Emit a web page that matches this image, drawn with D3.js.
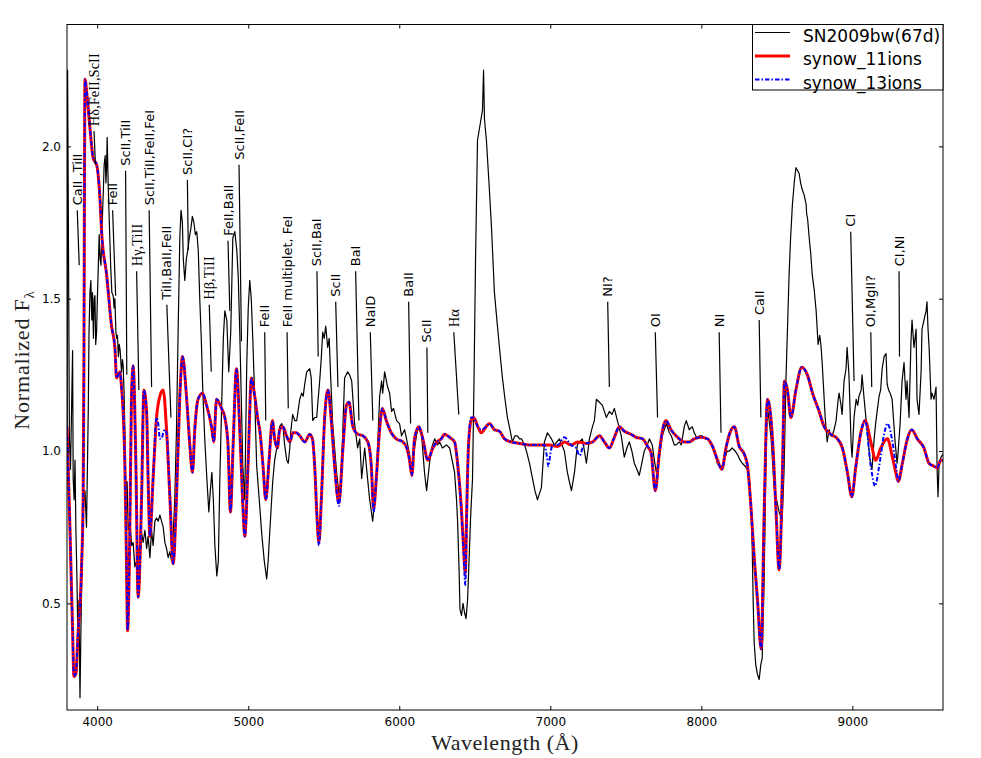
<!DOCTYPE html>
<html><head><meta charset="utf-8">
<script src="https://cdn.jsdelivr.net/npm/d3@7"></script>
<style>body{margin:0;background:#fff}svg{display:block}</style>
</head><body>
<svg id="chart" width="981" height="758"></svg>
<script>
// ---------- data ----------
const seriesNames = ["SN2009bw(67d)", "synow_11ions", "synow_13ions"];
const xTicks = [4000, 5000, 6000, 7000, 8000, 9000];
const yTicks = [0.5, 1.0, 1.5, 2.0];

// observed spectrum [wavelength (Å), normalized flux]
const observed = [[3801,1.04],[3804,2.25],[3810,1.66],[3816,1.04],[3823,0.94],[3829,1.10],[3837,1.33],[3841,0.91],[3847,0.84],[3853,0.97],[3859,0.74],[3866,0.58],[3872,0.38],[3879,0.51],[3886,0.19],[3892,0.41],[3899,0.61],[3906,0.78],[3912,0.84],[3919,0.87],[3929,0.75],[3935,0.94],[3941,1.14],[3946,1.40],[3952,1.52],[3958,1.56],[3964,1.43],[3969,1.52],[3975,1.37],[3980,1.50],[3985,1.51],[3990,1.35],[3996,1.39],[4001,1.50],[4007,1.60],[4013,1.71],[4019,1.63],[4025,1.61],[4030,1.70],[4036,1.79],[4041,1.86],[4046,1.94],[4053,1.97],[4058,1.88],[4062,1.93],[4066,2.03],[4073,1.87],[4079,1.77],[4089,1.61],[4097,1.52],[4106,1.51],[4112,1.47],[4117,1.50],[4124,1.39],[4129,1.37],[4134,1.38],[4140,1.31],[4146,1.35],[4152,1.33],[4157,1.29],[4161,1.26],[4167,1.30],[4172,1.28],[4178,1.19],[4183,1.07],[4190,0.85],[4198,0.90],[4205,0.74],[4216,0.77],[4228,0.69],[4238,0.70],[4249,0.62],[4261,0.64],[4271,0.68],[4282,0.64],[4294,0.73],[4304,0.70],[4316,0.74],[4327,0.68],[4337,0.72],[4349,0.65],[4360,0.74],[4370,0.69],[4382,0.77],[4393,0.78],[4404,0.77],[4415,0.79],[4426,0.77],[4437,0.75],[4448,0.70],[4459,0.68],[4470,0.65],[4481,0.67],[4492,0.64],[4503,0.72],[4514,0.85],[4525,1.07],[4536,1.40],[4547,1.70],[4555,1.79],[4564,1.75],[4570,1.63],[4580,1.56],[4590,1.63],[4600,1.66],[4610,1.70],[4620,1.73],[4630,1.77],[4640,1.75],[4650,1.71],[4659,1.72],[4669,1.66],[4679,1.50],[4689,1.37],[4699,1.20],[4712,1.04],[4726,0.91],[4739,0.80],[4749,0.87],[4759,0.93],[4769,0.84],[4779,0.69],[4792,0.59],[4802,0.64],[4812,0.91],[4825,1.17],[4835,1.37],[4845,1.46],[4858,1.43],[4871,1.26],[4884,1.39],[4898,1.70],[4911,1.72],[4924,1.66],[4934,1.57],[4944,1.39],[4954,1.17],[4964,0.95],[4977,0.84],[4990,1.28],[5000,1.47],[5010,1.56],[5020,1.50],[5030,1.37],[5043,1.17],[5056,0.95],[5073,0.84],[5089,0.73],[5106,0.64],[5122,0.58],[5132,0.64],[5142,0.73],[5162,0.90],[5175,0.97],[5189,1.01],[5208,1.08],[5222,1.09],[5232,1.07],[5241,1.02],[5255,0.97],[5265,0.96],[5275,1.01],[5281,1.06],[5294,1.12],[5308,1.10],[5321,1.10],[5341,1.17],[5354,1.19],[5364,1.18],[5374,1.22],[5387,1.26],[5407,1.27],[5417,1.24],[5427,1.10],[5440,1.11],[5453,1.11],[5463,1.17],[5473,1.23],[5483,1.30],[5493,1.39],[5503,1.37],[5513,1.41],[5526,1.34],[5536,1.37],[5546,1.24],[5559,1.09],[5585,0.93],[5605,0.84],[5619,0.97],[5638,1.24],[5658,1.26],[5671,1.25],[5685,1.23],[5704,1.09],[5724,1.01],[5738,1.04],[5751,0.91],[5771,1.01],[5790,0.91],[5804,0.84],[5824,0.77],[5837,0.84],[5850,0.93],[5870,1.18],[5883,1.23],[5890,1.19],[5903,1.26],[5923,1.21],[5936,1.19],[5949,1.13],[5962,1.14],[5982,1.10],[6002,1.09],[6015,1.05],[6035,1.07],[6048,1.04],[6068,0.99],[6081,0.92],[6101,1.01],[6121,1.07],[6134,1.07],[6148,1.05],[6167,0.93],[6181,0.87],[6200,0.96],[6214,1.01],[6234,1.04],[6253,1.02],[6267,1.03],[6286,1.01],[6313,1.02],[6333,1.01],[6346,0.98],[6366,0.93],[6379,0.84],[6386,0.77],[6396,0.61],[6402,0.48],[6412,0.46],[6422,0.50],[6432,0.47],[6442,0.45],[6452,0.51],[6462,0.64],[6472,0.78],[6485,0.91],[6495,1.24],[6505,1.63],[6518,2.02],[6538,2.08],[6551,2.12],[6558,2.25],[6564,2.09],[6577,2.02],[6594,1.88],[6610,1.74],[6630,1.52],[6650,1.41],[6667,1.32],[6683,1.24],[6700,1.17],[6716,1.11],[6733,1.07],[6749,1.03],[6766,1.05],[6782,1.05],[6796,1.04],[6809,1.04],[6829,1.02],[6842,1.00],[6862,0.96],[6882,0.91],[6898,0.87],[6915,0.84],[6928,0.86],[6941,0.88],[6961,1.03],[6981,1.06],[6994,1.05],[7007,1.04],[7027,1.02],[7044,1.03],[7060,1.04],[7077,1.02],[7093,1.00],[7113,0.93],[7126,0.90],[7140,0.87],[7160,0.93],[7179,1.02],[7193,1.03],[7212,1.04],[7226,1.00],[7239,0.96],[7259,1.04],[7279,1.08],[7292,1.10],[7305,1.17],[7325,1.16],[7345,1.15],[7358,1.13],[7371,1.11],[7391,1.13],[7408,1.12],[7424,1.14],[7444,1.10],[7470,1.05],[7490,0.98],[7507,1.01],[7523,1.03],[7540,1.00],[7556,0.96],[7573,0.94],[7589,0.92],[7606,0.96],[7622,1.00],[7642,1.02],[7656,1.04],[7675,1.02],[7689,0.97],[7702,0.93],[7722,0.98],[7741,1.05],[7768,1.09],[7788,1.06],[7801,1.05],[7821,1.02],[7834,1.02],[7854,1.03],[7867,1.02],[7887,1.08],[7900,1.10],[7920,1.07],[7940,1.08],[7953,1.06],[7973,1.04],[7986,1.05],[8006,1.05],[8026,1.04],[8039,1.04],[8059,1.03],[8072,1.02],[8092,0.99],[8105,0.96],[8125,0.95],[8138,0.95],[8152,0.97],[8171,1.00],[8185,1.00],[8204,1.01],[8224,1.00],[8238,0.99],[8257,0.97],[8271,0.96],[8290,0.95],[8304,0.94],[8317,0.92],[8328,0.82],[8337,0.68],[8343,0.51],[8350,0.37],[8360,0.30],[8370,0.27],[8383,0.25],[8394,0.30],[8403,0.32],[8416,0.58],[8426,0.91],[8436,1.15],[8449,1.10],[8462,1.04],[8482,0.88],[8502,0.83],[8515,0.80],[8535,0.77],[8548,0.94],[8560,1.23],[8572,1.43],[8581,1.58],[8591,1.70],[8603,1.81],[8615,1.88],[8626,1.93],[8638,1.92],[8648,1.91],[8657,1.88],[8667,1.86],[8681,1.84],[8694,1.81],[8697,1.78],[8704,1.76],[8714,1.70],[8724,1.65],[8734,1.58],[8747,1.53],[8760,1.46],[8773,1.35],[8784,1.38],[8793,1.34],[8800,1.29],[8810,1.20],[8820,1.11],[8833,1.03],[8846,1.07],[8856,1.05],[8866,1.05],[8879,1.07],[8892,1.10],[8906,1.17],[8912,1.19],[8925,1.15],[8932,1.12],[8945,1.23],[8958,1.27],[8965,1.34],[8975,1.27],[8978,1.24],[8992,1.02],[8998,0.98],[9011,1.11],[9025,1.17],[9035,1.15],[9044,1.18],[9058,1.20],[9064,1.25],[9078,1.17],[9097,1.07],[9107,1.02],[9117,0.97],[9130,0.94],[9144,1.04],[9154,1.09],[9164,1.13],[9177,1.18],[9187,1.20],[9197,1.27],[9210,1.31],[9223,1.32],[9230,1.22],[9240,1.20],[9250,1.19],[9263,1.17],[9273,1.10],[9283,1.03],[9296,0.96],[9302,0.99],[9316,1.09],[9329,1.23],[9342,1.29],[9355,1.17],[9362,1.23],[9375,1.11],[9388,1.36],[9395,1.43],[9408,1.34],[9422,1.40],[9428,1.17],[9441,1.12],[9455,1.26],[9461,1.40],[9474,1.43],[9488,1.46],[9494,1.49],[9501,1.40],[9508,1.34],[9521,1.17],[9527,1.19],[9541,1.17],[9554,1.21],[9561,0.94],[9567,0.85],[9574,0.96],[9587,0.98],[9600,0.99]];

// synow model with 11 ions
const synow11 = [[3800,1.08],[3820,0.74],[3837,0.41],[3846,0.26],[3859,0.27],[3874,0.41],[3886,0.49],[3897,0.63],[3907,0.85],[3912,1.29],[3915,1.75],[3919,2.22],[3934,2.16],[3952,2.06],[3974,1.96],[3996,1.94],[4018,1.83],[4029,1.72],[4062,1.58],[4095,1.41],[4117,1.34],[4128,1.24],[4140,1.25],[4150,1.26],[4161,1.21],[4183,0.96],[4194,0.63],[4201,0.41],[4216,0.74],[4227,1.18],[4238,1.28],[4256,0.96],[4271,0.52],[4294,0.85],[4309,1.20],[4327,1.13],[4337,0.91],[4349,0.72],[4370,0.91],[4393,1.11],[4415,1.18],[4437,1.20],[4459,1.07],[4481,0.85],[4503,0.63],[4525,0.85],[4547,1.18],[4565,1.31],[4591,1.18],[4613,1.02],[4631,0.93],[4646,1.07],[4668,1.17],[4697,1.19],[4724,1.15],[4757,1.08],[4772,1.03],[4790,1.17],[4823,1.14],[4845,1.11],[4866,1.02],[4882,0.80],[4900,1.02],[4922,1.27],[4944,1.07],[4962,0.85],[4977,0.72],[4999,0.96],[5021,1.24],[5043,1.18],[5065,1.10],[5076,1.07],[5098,0.95],[5116,0.84],[5138,0.97],[5160,1.10],[5175,1.04],[5193,1.01],[5208,1.07],[5230,1.08],[5253,1.05],[5275,1.03],[5296,1.06],[5319,1.06],[5341,1.05],[5374,1.03],[5407,1.055],[5425,1.04],[5440,0.95],[5455,0.785],[5468,0.70],[5484,0.84],[5506,1.11],[5528,1.20],[5550,1.10],[5572,0.95],[5600,0.83],[5627,1.01],[5650,1.15],[5667,1.16],[5693,1.08],[5726,1.055],[5759,1.05],[5792,1.03],[5815,0.95],[5830,0.81],[5848,0.91],[5865,1.04],[5888,1.14],[5914,1.10],[5947,1.06],[5980,1.04],[6024,1.03],[6050,1.01],[6068,0.97],[6083,0.92],[6101,1.04],[6130,1.08],[6156,1.04],[6189,0.97],[6222,1.01],[6249,1.03],[6278,1.04],[6300,1.055],[6333,1.045],[6366,1.03],[6388,0.95],[6410,0.82],[6425,0.69],[6437,0.60],[6447,0.82],[6458,1.015],[6476,1.10],[6492,1.11],[6520,1.08],[6542,1.06],[6575,1.08],[6597,1.09],[6630,1.07],[6663,1.065],[6697,1.04],[6741,1.03],[6796,1.025],[6862,1.02],[6928,1.02],[6994,1.02],[7049,1.015],[7093,1.03],[7138,1.02],[7181,1.03],[7237,1.025],[7281,1.03],[7325,1.05],[7358,1.03],[7391,1.01],[7424,1.045],[7457,1.08],[7490,1.065],[7534,1.055],[7568,1.045],[7611,1.04],[7644,1.015],[7667,0.995],[7695,0.87],[7722,0.995],[7748,1.08],[7766,1.10],[7799,1.07],[7843,1.045],[7887,1.03],[7920,1.03],[7953,1.04],[7997,1.045],[8041,1.04],[8074,1.015],[8107,0.97],[8136,0.94],[8163,1.01],[8189,1.06],[8218,1.08],[8251,1.015],[8284,0.99],[8306,0.95],[8328,0.82],[8350,0.65],[8372,0.51],[8396,0.35],[8416,0.80],[8438,1.17],[8471,1.04],[8493,0.82],[8515,0.61],[8537,0.93],[8550,1.23],[8570,1.20],[8593,1.11],[8626,1.20],[8665,1.275],[8702,1.25],[8736,1.19],[8780,1.13],[8813,1.08],[8857,1.055],[8901,1.04],[8934,1.01],[8967,0.93],[8996,0.85],[9023,0.95],[9056,1.06],[9084,1.10],[9122,1.03],[9155,0.97],[9188,1.01],[9232,1.04],[9265,0.98],[9287,0.93],[9304,0.90],[9331,0.96],[9364,1.04],[9393,1.07],[9430,1.04],[9474,1.01],[9507,0.96],[9540,0.95],[9562,0.945],[9585,0.97],[9600,0.97]];

// synow model with 13 ions
const synow13 = [[3800,1.08],[3820,0.74],[3837,0.41],[3846,0.26],[3859,0.27],[3874,0.41],[3886,0.49],[3897,0.63],[3907,0.85],[3912,1.29],[3915,1.75],[3919,2.22],[3934,2.16],[3952,2.06],[3974,1.96],[3996,1.94],[4018,1.83],[4029,1.72],[4062,1.58],[4095,1.41],[4117,1.34],[4128,1.24],[4140,1.25],[4150,1.26],[4161,1.21],[4183,0.96],[4194,0.63],[4201,0.41],[4216,0.74],[4227,1.18],[4238,1.28],[4256,0.96],[4271,0.52],[4294,0.85],[4309,1.20],[4327,1.13],[4337,0.91],[4349,0.72],[4370,0.91],[4393,1.11],[4404,1.09],[4415,1.04],[4426,1.04],[4437,1.06],[4448,1.07],[4459,1.06],[4481,0.85],[4503,0.63],[4525,0.85],[4547,1.18],[4565,1.31],[4591,1.18],[4613,1.02],[4631,0.93],[4646,1.07],[4668,1.17],[4697,1.19],[4724,1.15],[4757,1.08],[4772,1.03],[4790,1.17],[4823,1.14],[4845,1.11],[4866,1.02],[4882,0.80],[4900,1.02],[4922,1.27],[4944,1.07],[4962,0.85],[4977,0.72],[4999,0.96],[5021,1.24],[5043,1.18],[5065,1.10],[5076,1.07],[5098,0.95],[5116,0.84],[5138,0.97],[5160,1.10],[5175,1.04],[5193,1.01],[5208,1.07],[5230,1.08],[5253,1.05],[5275,1.03],[5296,1.06],[5319,1.06],[5341,1.05],[5374,1.03],[5407,1.055],[5425,1.04],[5440,0.95],[5455,0.785],[5468,0.69],[5484,0.84],[5506,1.11],[5528,1.20],[5550,1.10],[5572,0.95],[5600,0.82],[5627,1.01],[5650,1.15],[5667,1.16],[5693,1.08],[5726,1.055],[5759,1.05],[5792,1.03],[5815,0.95],[5830,0.80],[5848,0.91],[5865,1.04],[5888,1.14],[5914,1.10],[5947,1.06],[5980,1.04],[6024,1.03],[6050,1.01],[6068,0.97],[6083,0.92],[6101,1.04],[6130,1.08],[6156,1.04],[6189,0.97],[6222,1.01],[6249,1.03],[6278,1.04],[6300,1.055],[6333,1.045],[6366,1.03],[6388,0.95],[6410,0.81],[6425,0.68],[6437,0.56],[6447,0.80],[6458,1.015],[6476,1.11],[6492,1.11],[6520,1.08],[6542,1.07],[6575,1.08],[6597,1.09],[6630,1.07],[6663,1.065],[6697,1.04],[6741,1.03],[6796,1.025],[6862,1.02],[6928,1.02],[6962,1.02],[6975,0.99],[6988,0.95],[7000,0.99],[7015,1.02],[7049,1.02],[7093,1.045],[7138,1.02],[7170,1.01],[7195,0.985],[7220,1.02],[7237,1.025],[7281,1.03],[7325,1.05],[7358,1.03],[7391,1.01],[7424,1.045],[7457,1.08],[7490,1.065],[7534,1.055],[7568,1.045],[7611,1.04],[7644,1.015],[7667,0.995],[7695,0.87],[7722,0.995],[7748,1.08],[7766,1.10],[7799,1.07],[7843,1.045],[7887,1.03],[7920,1.03],[7953,1.04],[7997,1.045],[8041,1.04],[8074,1.015],[8107,0.97],[8136,0.94],[8163,1.01],[8189,1.06],[8218,1.08],[8251,1.015],[8284,0.99],[8306,0.95],[8328,0.82],[8350,0.65],[8372,0.51],[8396,0.35],[8416,0.80],[8438,1.17],[8471,1.04],[8493,0.82],[8515,0.61],[8537,0.93],[8550,1.23],[8570,1.20],[8593,1.11],[8626,1.20],[8665,1.275],[8702,1.25],[8736,1.19],[8780,1.13],[8813,1.08],[8857,1.055],[8901,1.04],[8934,1.01],[8967,0.93],[8996,0.85],[9023,0.95],[9056,1.06],[9084,1.10],[9122,0.95],[9150,0.885],[9177,0.95],[9210,1.055],[9232,1.09],[9262,1.04],[9294,0.93],[9304,0.90],[9331,0.96],[9364,1.04],[9393,1.07],[9430,1.04],[9474,1.01],[9507,0.96],[9540,0.95],[9562,0.945],[9585,0.97],[9600,0.97]];

// line identifications: label, marker top [λ, flux], marker bottom [λ, flux]
const ionLabels = ["CaII ,TiII","Hδ,FeII,ScII","FeII","ScII,TiII","Hγ,TiII","ScII,TiII,FeII,FeI","TiII,BaII,FeII","ScII,CI?","Hβ,TiII","FeII,BaII","ScII,FeII","FeII","FeII multiplet, FeI","ScII,BaI","ScII","BaI","NaID","BaII","ScII","Hα","NI?","OI","NI","CaII","CI","OI,MgII?","CI,NI"];
const ionTop = [[3868,1.79],[3979,2.05],[4102,1.79],[4188,1.92],[4261,1.59],[4344,1.79],[4461,1.48],[4597,1.89],[4742,1.48],[4866,1.69],[4939,1.94],[5109,1.39],[5257,1.39],[5455,1.59],[5579,1.49],[5711,1.59],[5808,1.39],[6062,1.49],[6183,1.34],[6361,1.39],[7380,1.49],[7695,1.39],[8118,1.39],[8383,1.43],[8989,1.72],[9122,1.39],[9309,1.59]];
const ionBottom = [[3881,1.61],[3988,1.94],[4122,1.51],[4196,1.25],[4276,1.20],[4360,1.21],[4488,1.11],[4603,1.66],[4755,1.26],[4878,1.46],[4955,1.36],[5116,1.10],[5265,1.14],[5463,1.31],[5594,1.21],[5733,1.10],[5825,1.10],[6075,1.09],[6189,1.06],[6394,1.12],[7391,1.21],[7710,1.11],[8130,1.06],[8394,1.11],[9011,1.23],[9128,1.21],[9312,1.31]];

// ---------- drawing ----------
const svg = d3.select("#chart");
const L = 67, R = 943, T = 24.5, B = 710;
const x = d3.scaleLinear().domain([3800, 9600]).range([L, R]);
const y = d3.scaleLinear().domain([0.15, 2.4]).range([B, T]);

svg.append("rect").attr("width", 981).attr("height", 758).attr("fill", "#fff");
svg.append("defs").append("clipPath").attr("id", "clip")
  .append("rect").attr("x", L).attr("y", T).attr("width", R - L).attr("height", B - T);

const plot = svg.append("g").attr("clip-path", "url(#clip)");
const lin = d3.line().x(d => x(d[0])).y(d => y(d[1]));
const smooth = d3.line().x(d => x(d[0])).y(d => y(d[1])).curve(d3.curveMonotoneX);

plot.append("path").datum(observed).attr("d", lin)
  .attr("fill", "none").attr("stroke", "#000").attr("stroke-width", 1.2).attr("stroke-linejoin", "round");
plot.append("path").datum(synow11).attr("d", smooth)
  .attr("fill", "none").attr("stroke", "#ff0000").attr("stroke-width", 3).attr("stroke-linejoin", "round");
plot.append("path").datum(synow13).attr("d", smooth)
  .attr("fill", "none").attr("stroke", "#0000ff").attr("stroke-width", 2)
  .attr("stroke-dasharray", "4.5,2,1.5,2");

// annotations
const ann = svg.append("g");
ionLabels.forEach((lab, i) => {
  const t = ionTop[i], b = ionBottom[i];
  ann.append("line").attr("x1", x(t[0])).attr("y1", y(t[1])).attr("x2", x(b[0])).attr("y2", y(b[1]))
    .attr("stroke", "#000").attr("stroke-width", 1.2);
  const serif = /^H[αβγδ]/.test(lab);
  ann.append("text")
    .attr("transform", `translate(${x(t[0])},${y(t[1]) - 5}) rotate(-90)`)
    .attr("dominant-baseline", "central")
    .attr("font-family", serif ? "Liberation Serif, serif" : "DejaVu Sans, sans-serif")
    .attr("font-size", serif ? 14.5 : 13)
    .attr("fill", "#000")
    .text(lab);
});

// axes
const font = "DejaVu Sans, sans-serif";
const gx = svg.append("g").attr("transform", `translate(0,${B})`)
  .call(d3.axisBottom(x).tickValues(xTicks).tickFormat(d3.format("d")).tickSize(-4).tickPadding(7));
const gy = svg.append("g").attr("transform", `translate(${L},0)`)
  .call(d3.axisLeft(y).tickValues(yTicks).tickFormat(d3.format(".1f")).tickSize(-4).tickPadding(6));
const gt = svg.append("g").attr("transform", `translate(0,${T})`)
  .call(d3.axisTop(x).tickValues(xTicks).tickFormat("").tickSize(-4));
const gr = svg.append("g").attr("transform", `translate(${R},0)`)
  .call(d3.axisRight(y).tickValues(yTicks).tickFormat("").tickSize(-4));
[gx, gy, gt, gr].forEach(g => {
  g.select(".domain").remove();
  g.selectAll("line").attr("stroke", "#000");
  g.selectAll("text").attr("font-family", font).attr("font-size", 12).attr("fill", "#000");
});

svg.append("rect").attr("x", L).attr("y", T).attr("width", R - L).attr("height", B - T)
  .attr("fill", "none").attr("stroke", "#000").attr("stroke-width", 1);

// axis labels
svg.append("text").attr("x", (L + R) / 2).attr("y", 750).attr("text-anchor", "middle")
  .attr("font-family", "Liberation Serif, serif").attr("font-size", 22).attr("fill", "#222")
  .attr("letter-spacing", 0.5)
  .text("Wavelength (Å)");
const yl = svg.append("text").attr("transform", "translate(29,360) rotate(-90)").attr("text-anchor", "middle")
  .attr("font-family", "Liberation Serif, serif").attr("font-size", 22).attr("fill", "#222")
  .attr("letter-spacing", 0.8);
yl.append("tspan").text("Normalized F");
yl.append("tspan").attr("font-size", 15).attr("dy", 5).text("λ");

// legend
const lg = svg.append("g");
lg.append("rect").attr("x", 752.5).attr("y", T).attr("width", R - 752.5).attr("height", 65.5)
  .attr("fill", "#fff").attr("stroke", "#000").attr("stroke-width", 1);
const legendStyles = [
  {stroke: "#000", w: 1.2, dash: null},
  {stroke: "#ff0000", w: 3, dash: null},
  {stroke: "#0000ff", w: 2, dash: "4.5,2,1.5,2"}
];
seriesNames.forEach((name, i) => {
  const yy = 32.5 + i * 23.5;
  const s = legendStyles[i];
  lg.append("line").attr("x1", 755).attr("x2", 790).attr("y1", yy).attr("y2", yy)
    .attr("stroke", s.stroke).attr("stroke-width", s.w).attr("stroke-dasharray", s.dash);
  lg.append("text").attr("x", 803).attr("y", yy + 9)
    .attr("font-family", font).attr("font-size", 17).attr("fill", "#000").text(name);
});
</script>
</body></html>
